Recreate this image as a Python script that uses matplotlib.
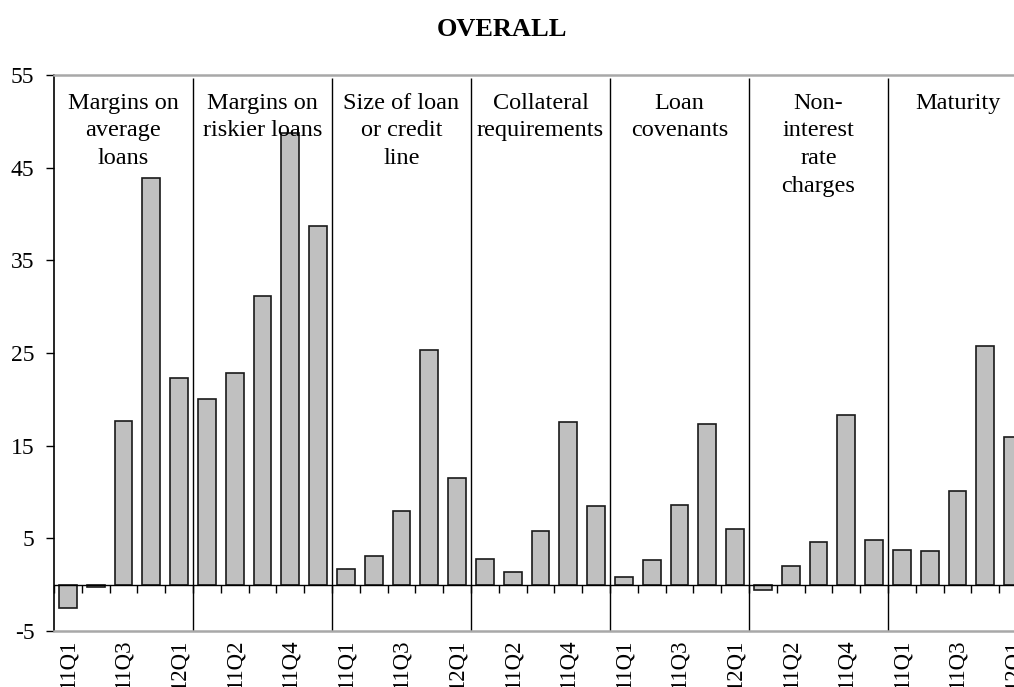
import matplotlib
matplotlib.use("Agg")
import matplotlib.pyplot as plt
import numpy as np

plt.rcParams['font.family'] = ['Liberation Serif', 'DejaVu Serif']

title = "OVERALL"
groups = ["Margins on\naverage\nloans", "Margins on\nriskier loans", "Size of loan\nor credit\nline",
          "Collateral\nrequirements", "Loan\ncovenants", "Non-\ninterest\nrate\ncharges", "Maturity"]
quarters = ["11Q1", "11Q2", "11Q3", "11Q4", "12Q1"]

margins_avg = [-2.5, -0.2, 17.7, 43.9, 22.3]
margins_risky = [20.0, 22.8, 31.2, 48.7, 38.7]
size_loan = [1.7, 3.1, 8.0, 25.3, 11.5]
collateral = [2.8, 1.4, 5.8, 17.6, 8.5]
covenants = [0.8, 2.7, 8.6, 17.3, 6.0]
non_interest = [-0.6, 2.0, 4.6, 18.3, 4.8]
maturity = [3.7, 3.6, 10.1, 25.8, 15.9]

series = [margins_avg, margins_risky, size_loan, collateral, covenants, non_interest, maturity]
values = np.concatenate(series)
n_q = len(quarters)
n = len(values)
labels = [quarters[i % n_q] for i in range(n)]

yticks = [-5, 5, 15, 25, 35, 45, 55]

W, H = 1014, 687
fig = plt.figure(figsize=(W / 100, H / 100), dpi=100)
ax = fig.add_axes([54 / W, 56 / H, 973 / W, 556 / H])

x = np.arange(n) + 0.5
ax.bar(x, values, width=0.64, color='#c0c0c0', edgecolor='#1a1a1a', linewidth=1.2, zorder=3)

ax.set_xlim(0, n)
ax.set_ylim(-5, 55)

# group separators
bounds = np.arange(n_q, n, n_q)
ax.vlines(bounds, -5, 54.65, colors='black', linewidth=1.0, zorder=2)

# group labels
for gi, g in enumerate(groups):
    ax.text(gi * n_q + n_q / 2, 53.1, g, ha='center', va='top', fontsize=17.5,
            linespacing=1.43, zorder=4)

# zero line with ticks
ax.axhline(0, color='black', linewidth=1.0, zorder=4)
sec = ax.secondary_xaxis(5 / 60)
sec.set_xticks(np.arange(0, n + 1))
sec.tick_params(axis='x', direction='out', length=6, width=1.0, color='black', labelbottom=False)
sec.spines['bottom'].set_visible(False)
sec.xaxis.set_ticklabels([])

# spines
ax.spines['left'].set_color('black')
ax.spines['left'].set_linewidth(1.2)
for s in ['top', 'bottom']:
    ax.spines[s].set_color('#a8a8a8')
    ax.spines[s].set_linewidth(1.8)
ax.spines['right'].set_visible(False)

ax.set_yticks(yticks)
ax.set_yticklabels([str(v) for v in yticks], fontsize=17)
ax.tick_params(axis='y', direction='out', length=6, width=1.0, pad=8)

shown = np.arange(0, n, 2)
ax.set_xticks(x[shown])
ax.set_xticklabels([labels[i] for i in shown], rotation=90, fontsize=16.5)
ax.tick_params(axis='x', length=0, pad=6)

fig.text(502.5 / W, 1 - 30 / H, title, ha='center', va='center', fontsize=19, fontweight='bold')

fig.savefig("out.png", dpi=100)
